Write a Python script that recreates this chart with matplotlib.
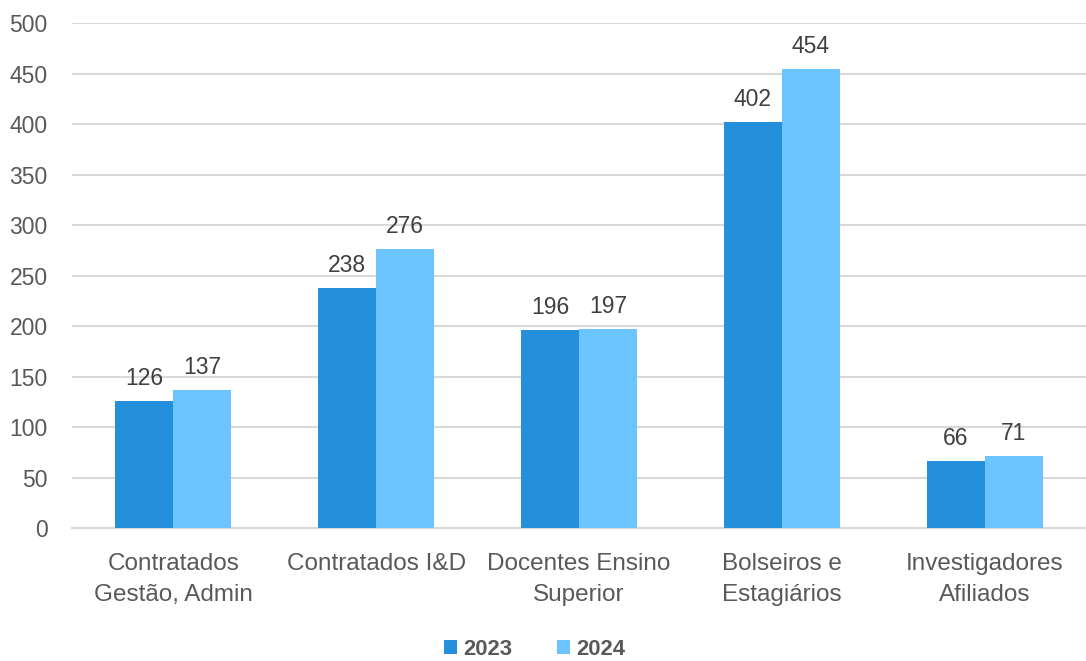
import matplotlib
matplotlib.use("Agg")
import matplotlib.pyplot as plt
import numpy as np

plt.rcParams['font.family'] = ['Liberation Sans', 'DejaVu Sans']

categories = ["Contratados\nGestão, Admin", "Contratados I&D", "Docentes Ensino\nSuperior",
              "Bolseiros e\nEstagiários", "Investigadores\nAfiliados"]
series_names = ["2023", "2024"]
values_2023 = [126, 238, 196, 402, 66]
values_2024 = [137, 276, 197, 454, 71]
colors = ["#2490DB", "#6CC4FF"]
text_color = "#595959"

fig = plt.figure(figsize=(10.86, 6.61), dpi=100)
ax = fig.add_axes([0.0663, 0.2012, 0.9337, 0.764])

x = np.arange(len(categories))
w = 0.286
for i, (vals, c, name) in enumerate(zip([values_2023, values_2024], colors, series_names)):
    pos = x + (i - 0.5) * w
    bars = ax.bar(pos, vals, width=w, color=c, label=name, zorder=3, linewidth=0)
    for p, v in zip(pos, vals):
        ax.annotate(str(v), (p, v), xytext=(0, 8), textcoords="offset points",
                    ha="center", va="bottom", fontsize=16.5, color="#404040")

ax.set_xlim(-0.5, len(categories) - 0.5)
ax.set_ylim(0, 500)
ax.set_yticks(np.arange(0, 501, 50))
ax.yaxis.grid(True, color="#D9D9D9", linewidth=1.5, zorder=0)
ax.set_xticks(x)
ax.set_xticklabels(categories, fontsize=17.5, color=text_color, linespacing=1.55)
ax.tick_params(axis="y", labelsize=16.5, labelcolor=text_color, length=0, pad=17.5)
ax.tick_params(axis="x", length=0, pad=18)
for s in ["top", "right", "left"]:
    ax.spines[s].set_visible(False)
ax.spines["bottom"].set_color("#D9D9D9")
ax.spines["bottom"].set_linewidth(1.5)

leg = fig.legend(loc="lower center", bbox_to_anchor=(0.492, -0.028), ncol=2, frameon=False,
                 prop={"weight": "bold", "size": 15.8}, handlelength=0.62, handleheight=0.62,
                 handletextpad=0.25, columnspacing=2.05)
for t in leg.get_texts():
    t.set_color(text_color)

fig.savefig("out.png", dpi=100)
